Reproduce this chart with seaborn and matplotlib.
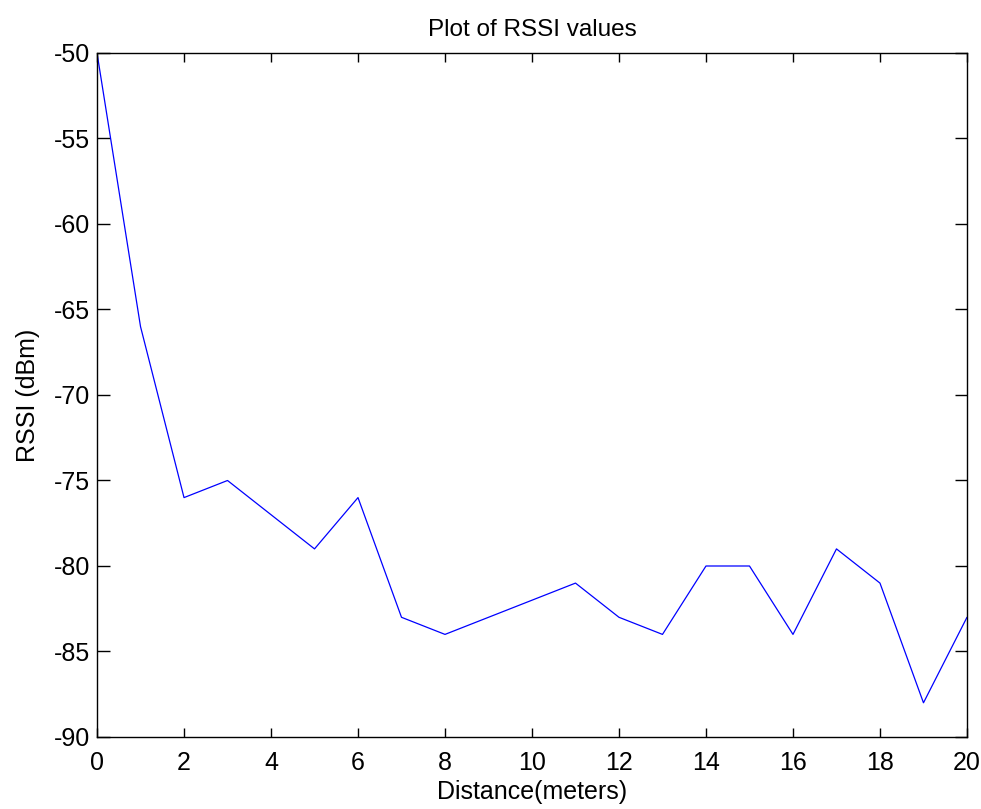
import matplotlib
matplotlib.use("Agg")
import matplotlib.pyplot as plt
import seaborn as sns
import pandas as pd

distance = list(range(0, 21))
rssi = [-50, -66, -76, -75, -77, -79, -76, -83, -84, -83, -82, -81, -83, -84,
        -80, -80, -84, -79, -81, -88, -83]
xticks = list(range(0, 21, 2))
yticks = list(range(-90, -49, 5))

sns.set_theme(style="ticks")
plt.rcParams['font.family'] = ['Liberation Sans', 'DejaVu Sans']
plt.rcParams['axes.unicode_minus'] = False
plt.rcParams['text.color'] = 'black'
plt.rcParams['axes.labelcolor'] = 'black'

fig = plt.figure(figsize=(9.81, 8.09), dpi=100)
ax = fig.add_axes([0.0989, 0.089, 0.8868, 0.8455])
df = pd.DataFrame({"Distance": distance, "RSSI": rssi})
sns.lineplot(data=df, x="Distance", y="RSSI", ax=ax, color="#0000ff", linewidth=0.9)

ax.set_xlim(0, 20)
ax.set_ylim(-90, -50)
ax.set_xticks(xticks)
ax.set_yticks(yticks)
ax.set_xticklabels([str(v) for v in xticks])
ax.set_yticklabels([str(v) for v in yticks])
ax.tick_params(axis="x", direction="in", length=6.5, width=1, top=True,
               labelsize=18, colors="black", pad=10)
ax.tick_params(axis="y", direction="in", length=9, width=1, right=True,
               labelsize=18, colors="black", pad=5)
for s in ax.spines.values():
    s.set_visible(True)
    s.set_linewidth(1.0)
    s.set_color("black")
ax.set_xlabel("Distance(meters)", fontsize=18, labelpad=4, color="black")
ax.set_ylabel("RSSI (dBm)", fontsize=18, labelpad=10, color="black")
ax.set_title("Plot of RSSI values", fontsize=17.5, pad=12, color="black")
fig.savefig("out.png", dpi=100)
